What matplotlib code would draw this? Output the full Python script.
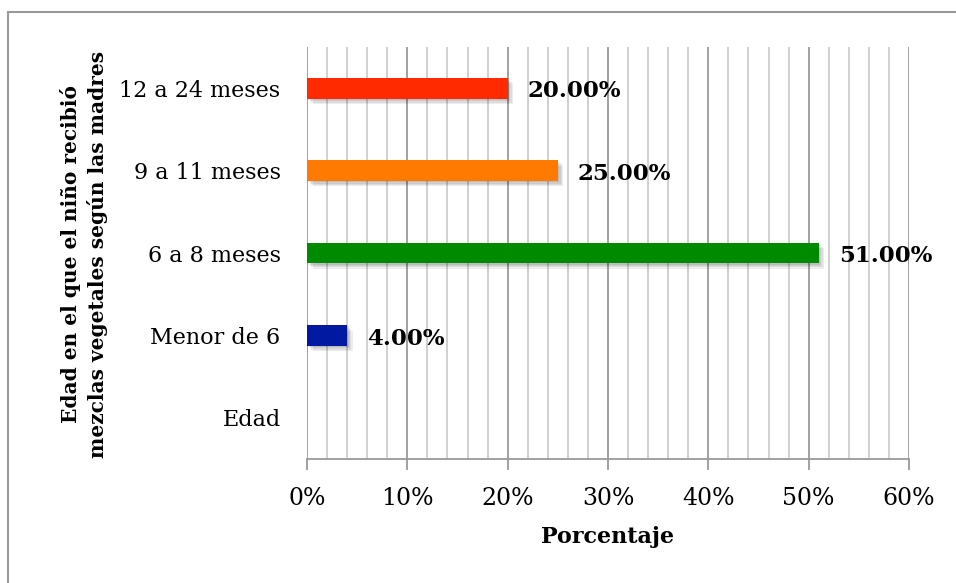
import matplotlib
matplotlib.use("Agg")
import matplotlib.pyplot as plt
import matplotlib.patheffects as pe
from matplotlib.patches import Rectangle
from matplotlib.ticker import MultipleLocator, PercentFormatter
import numpy as np

categories = ["Edad", "Menor de 6", "6 a 8 meses", "9 a 11 meses", "12 a 24 meses"]
values = [np.nan, 4.0, 51.0, 25.0, 20.0]
colors = ["none", "#0019A0", "#008A00", "#FF7A00", "#FF2A00"]

plt.rcParams["font.family"] = ["DejaVu Serif"]

W, H = 956, 583
fig = plt.figure(figsize=(W / 100, H / 100), dpi=100)

# outer chart frame
fig.patches.append(Rectangle((8 / W, -0.05), 1.1, (H - 12) / H + 0.05,
                             transform=fig.transFigure, fill=False,
                             edgecolor="#999999", linewidth=1.5))

ax = fig.add_axes([307 / W, (H - 459) / H, (909 - 307) / W, (459 - 47) / H])
y = np.arange(len(categories))
bars = ax.barh(y, np.nan_to_num(values), height=0.25, color=colors, zorder=3)

# soft drop shadow built from several faint offset copies
shadow = [pe.SimplePatchShadow(offset=(o, -o), alpha=0.07, shadow_rgbFace="k")
          for o in (1.0, 2.0, 3.0, 4.0)]
for b, v in zip(bars, values):
    if np.isnan(v):
        b.set_visible(False)
        continue
    b.set_path_effects(shadow + [pe.Normal()])
    ax.text(v + 2.0, b.get_y() + b.get_height() / 2 - 0.04, f"{v:.2f}%", va="center", ha="left",
            fontsize=16.5, fontweight="bold", zorder=4)

ax.set_xlim(0, 60)
ax.set_ylim(-0.5, len(categories) - 0.5)
ax.xaxis.set_major_locator(MultipleLocator(10))
ax.xaxis.set_minor_locator(MultipleLocator(2))
ax.xaxis.set_major_formatter(PercentFormatter(decimals=0))
ax.grid(which="major", axis="x", color="#9A9A9A", linewidth=1.3, zorder=0)
ax.grid(which="minor", axis="x", color="#CDCDCD", linewidth=1.3, zorder=0)
ax.set_yticks(y)
ax.set_yticklabels(categories, fontsize=16)
ax.tick_params(axis="y", length=0, pad=19)
ax.tick_params(axis="x", which="major", length=8, width=1.3, color="#9A9A9A", labelsize=17, pad=12)
ax.tick_params(axis="x", which="minor", length=0)
for s in ["top", "right", "left"]:
    ax.spines[s].set_visible(False)
ax.spines["bottom"].set_color("#9A9A9A")
ax.spines["bottom"].set_linewidth(1.3)

ax.set_xlabel("Porcentaje", fontsize=16, fontweight="bold", labelpad=12)
fig.text(84 / W, 1 - 254 / H,
         "Edad en el que el niño recibió\nmezclas vegetales según las madres",
         rotation=90, ha="center", va="center", fontsize=14.5, fontweight="bold",
         linespacing=1.35)

fig.savefig("out.png", dpi=100)
